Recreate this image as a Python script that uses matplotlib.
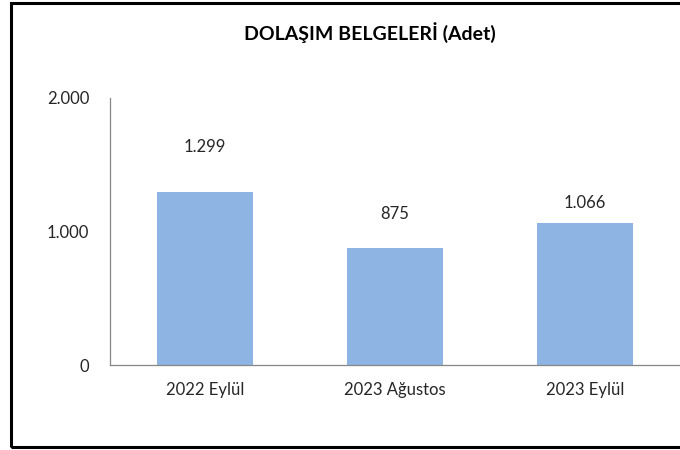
import matplotlib.pyplot as plt
from matplotlib.patches import Rectangle
from matplotlib.ticker import FuncFormatter

plt.rcParams['font.family'] = ['Lato', 'DejaVu Sans']

categories = ["2022 Eylül", "2023 Ağustos", "2023 Eylül"]
values = [1299, 875, 1066]
labels = ["1.299", "875", "1.066"]
label_pos = [1630, 1130, 1215]   # where Excel put the data labels
yticks = [0, 1000, 2000]

fig = plt.figure(figsize=(6.8, 4.5), dpi=100)
ax = fig.add_axes([110/680, 85/450, 570/680, 267/450])

x = range(len(categories))
ax.bar(x, values, width=0.51, color="#8EB4E3")
for xi, lab, yp in zip(x, labels, label_pos):
    ax.text(xi, yp, lab, ha="center", va="center", fontsize=12, color="#262626")

ax.set_xlim(-0.5, len(categories) - 0.5)
ax.set_ylim(0, 2000)
ax.set_yticks(yticks)
ax.yaxis.set_major_formatter(FuncFormatter(lambda v, p: f"{int(v):,}".replace(",", ".")))
ax.set_xticks(list(x))
ax.set_xticklabels(categories)
ax.tick_params(axis="both", length=0, labelsize=12, colors="#262626")
ax.tick_params(axis="y", pad=15)
ax.tick_params(axis="x", pad=12)
for s in ["top", "right"]:
    ax.spines[s].set_visible(False)
for s in ["left", "bottom"]:
    ax.spines[s].set_color("#868686")
    ax.spines[s].set_linewidth(0.9)

fig.text(370/680, 1 - 33/450, "DOLAŞIM BELGELERİ (Adet)", ha="center", va="center",
         fontsize=14, fontweight="bold", color="black")

fig.patches.append(Rectangle((11/680, 3/450), 1.0, 444/450, transform=fig.transFigure,
                             fill=False, edgecolor="black", linewidth=2.2))

fig.savefig("out.png", dpi=100)
